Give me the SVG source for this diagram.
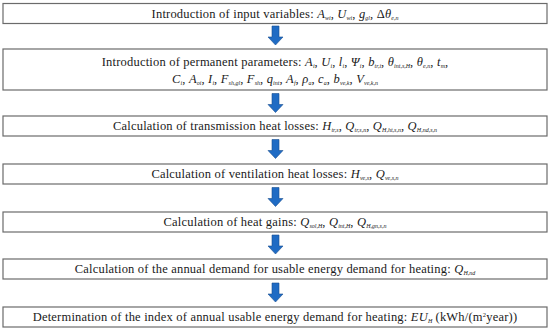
<svg xmlns="http://www.w3.org/2000/svg" width="550" height="336" viewBox="0 0 550 336">
<style>
.box{fill:#fff;stroke:#6b6b6b;stroke-width:1.2}
.t{font-family:"Liberation Serif","DejaVu Serif",serif;font-size:12.5px;letter-spacing:0.2px;fill:#1a1a1a;text-anchor:middle}
.i{font-style:italic}
.s{font-style:italic;font-size:6px;letter-spacing:0;baseline-shift:-1.5px}
.sp{font-size:6.5px;baseline-shift:4px}
.arr{fill:#1f6bc4;stroke:#1a4f91;stroke-width:0.6}
</style>
<defs>
<path id="ar" d="M-3.5,0 H3.5 V11 H7.5 L0,19 L-7.5,11 H-3.5 Z"/>
</defs>
<rect width="550" height="336" fill="#fff"/>
<g id="n1"><rect class="box" x="3" y="3.5" width="544" height="20"/>
<text class="t" x="275" y="17.5">Introduction of input variables: <tspan class="i">A</tspan><tspan class="s">wi</tspan>, <tspan class="i">U</tspan><tspan class="s">wi</tspan>, <tspan class="i">g</tspan><tspan class="s">gl</tspan>, Δ<tspan class="i">θ</tspan><tspan class="s">e,n</tspan></text></g>
<g id="n2"><rect class="box" x="3" y="49" width="544" height="41"/>
<text class="t" x="275" y="65.5">Introduction of permanent parameters: <tspan class="i">A</tspan><tspan class="s">i</tspan>, <tspan class="i">U</tspan><tspan class="s">i</tspan>, <tspan class="i">l</tspan><tspan class="s">i</tspan>, <tspan class="i">Ψ</tspan><tspan class="s">i</tspan>, <tspan class="i">b</tspan><tspan class="s">tr,i</tspan>, <tspan class="i">θ</tspan><tspan class="s">int,s,H</tspan>, <tspan class="i">θ</tspan><tspan class="s">e,n</tspan>, <tspan class="i">t</tspan><tspan class="s">m</tspan>,</text>
<text class="t" x="275" y="82.5"><tspan class="i">C</tspan><tspan class="s">i</tspan>, <tspan class="i">A</tspan><tspan class="s">oi</tspan>, <tspan class="i">I</tspan><tspan class="s">i</tspan>, <tspan class="i">F</tspan><tspan class="s">sh,gl</tspan>, <tspan class="i">F</tspan><tspan class="s">sh</tspan>, <tspan class="i">q</tspan><tspan class="s">int</tspan>, <tspan class="i">A</tspan><tspan class="s">f</tspan>, <tspan class="i">ρ</tspan><tspan class="s">a</tspan>, <tspan class="i">c</tspan><tspan class="s">a</tspan>, <tspan class="i">b</tspan><tspan class="s">ve,k</tspan>, <tspan class="i">V</tspan><tspan class="s">ve,k,n</tspan></text></g>
<g id="n3"><rect class="box" x="3" y="116" width="544" height="20"/>
<text class="t" x="275" y="130">Calculation of transmission heat losses: <tspan class="i">H</tspan><tspan class="s">tr,s</tspan>, <tspan class="i">Q</tspan><tspan class="s">tr,s,n</tspan>, <tspan class="i">Q</tspan><tspan class="s">H,ht,s,n</tspan>, <tspan class="i">Q</tspan><tspan class="s">H,nd,s,n</tspan></text></g>
<g id="n4"><rect class="box" x="3" y="164" width="544" height="20"/>
<text class="t" x="275" y="178">Calculation of ventilation heat losses: <tspan class="i">H</tspan><tspan class="s">ve,s</tspan>, <tspan class="i">Q</tspan><tspan class="s">ve,s,n</tspan></text></g>
<g id="n5"><rect class="box" x="3" y="212" width="544" height="20"/>
<text class="t" x="275" y="226">Calculation of heat gains: <tspan class="i">Q</tspan><tspan class="s">sol,H</tspan>, <tspan class="i">Q</tspan><tspan class="s">int,H</tspan>, <tspan class="i">Q</tspan><tspan class="s">H,gn,s,n</tspan></text></g>
<g id="n6"><rect class="box" x="3" y="259" width="544" height="20"/>
<text class="t" x="275" y="273">Calculation of the annual demand for usable energy demand for heating: <tspan class="i">Q</tspan><tspan class="s">H,nd</tspan></text></g>
<g id="n7"><rect class="box" x="3" y="307" width="544" height="20"/>
<text class="t" x="275" y="321">Determination of the index of annual usable energy demand for heating: <tspan class="i">EU</tspan><tspan class="s">H</tspan> (kWh/(m<tspan class="sp">2</tspan>year))</text></g>
<g id="connectors">
<use href="#ar" class="arr" x="275.5" y="26"/>
<use href="#ar" class="arr" x="275.5" y="93.5"/>
<use href="#ar" class="arr" x="275.5" y="139.5"/>
<use href="#ar" class="arr" x="275.5" y="187.5"/>
<use href="#ar" class="arr" x="275.5" y="235"/>
<use href="#ar" class="arr" x="275.5" y="283"/>
</g>
</svg>
